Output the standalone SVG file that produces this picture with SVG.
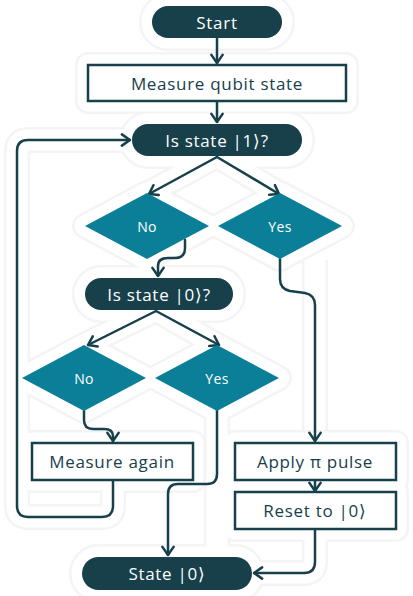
<svg xmlns="http://www.w3.org/2000/svg" xmlns:xlink="http://www.w3.org/1999/xlink" width="413" height="596" viewBox="0 0 413 596">
<style>
.pill{fill:#17404b}
.box{fill:#ffffff;stroke:#17404b;stroke-width:2.5}
.dia{fill:#0b7f98}
.t{font-family:"Open Sans","Liberation Sans",sans-serif;font-size:17px;letter-spacing:0.7px;text-anchor:middle;dominant-baseline:central}
.w{fill:#ffffff}
.d{fill:#17404b}
.s{font-size:14px;letter-spacing:0.3px}
.c{fill:none;stroke:#17404b;stroke-width:2.5;stroke-linecap:round;stroke-linejoin:round}
.halo1 *{fill:#f4f4f4;stroke:#f4f4f4;stroke-width:26;stroke-linejoin:round}
.halo2 *{fill:#ffffff;stroke:#ffffff;stroke-width:21;stroke-linejoin:round}
</style>
<defs>
<marker id="ah" viewBox="0 0 10 10" refX="9" refY="5" markerWidth="14" markerHeight="14" orient="auto" markerUnits="userSpaceOnUse">
<path d="M3.2,1 L9,5 L3.2,9" fill="none" stroke="#17404b" stroke-width="1.8" stroke-linecap="round" stroke-linejoin="round"/>
</marker>
<g id="shapes">
<rect x="152" y="6" width="130" height="32" rx="16"/>
<rect x="88" y="65" width="258" height="36"/>
<rect x="132" y="124" width="170" height="32" rx="16"/>
<polygon points="85,226 147,193 209,226 147,259"/>
<polygon points="218,226 280,193 342,226 280,259"/>
<rect x="85" y="278" width="148" height="32" rx="16"/>
<polygon points="22,378 84,345 146,378 84,411"/>
<polygon points="155,378 217,345 279,378 217,411"/>
<rect x="32" y="443" width="161" height="37"/>
<rect x="235" y="443" width="161" height="37"/>
<rect x="235" y="492" width="161" height="37"/>
<rect x="82" y="557" width="170" height="33" rx="16.5"/>
<path d="M113,480 V506 Q113,517 102,517 H28 Q17,517 17,506 V151 Q17,140 28,140 H131" fill="none"/>
<path d="M315,260 V430" fill="none"/>
<path d="M217,400 V555" fill="none"/>
<path d="M315,529 V562 Q315,573 304,573 H253" fill="none"/>
<path d="M217,156 L147,194 M217,156 L280,194 M156,310 L84,345 M156,310 L217,345" fill="none"/>
</g>
</defs>
<g class="halo1"><use xlink:href="#shapes"/></g>
<g class="halo2"><use xlink:href="#shapes"/></g>

<g id="connectors">
<path class="c" marker-end="url(#ah)" d="M217,38 V63"/>
<path class="c" marker-end="url(#ah)" d="M217,101 V122"/>
<path class="c" marker-end="url(#ah)" d="M113,481 V506 Q113,517 102,517 H28 Q17,517 17,506 V151 Q17,140 28,140 H130"/>
<path class="c" marker-end="url(#ah)" d="M217,157 L149,194"/>
<path class="c" marker-end="url(#ah)" d="M217,157 L279,194"/>
<path class="c" marker-end="url(#ah)" d="M185,240 V248 Q185,258 175,258 H168 Q158,258 158,266 V276"/>
<path class="c" marker-end="url(#ah)" d="M280,259 V279 Q280,289 290,291 L305,293 Q315,295 315,305 V441"/>
<path class="c" marker-end="url(#ah)" d="M156,311 L88,345"/>
<path class="c" marker-end="url(#ah)" d="M156,311 L219,345"/>
<path class="c" marker-end="url(#ah)" d="M84,411 V420 Q84,429 93,429 H104 Q113,429 113,436 V441"/>
<path class="c" marker-end="url(#ah)" d="M217,400 V474 Q217,484 207,484 H178 Q168,484 168,494 V555"/>
<path class="c" marker-end="url(#ah)" d="M315,481 V491"/>
<path class="c" marker-end="url(#ah)" d="M315,530 V562 Q315,573 304,573 H254"/>
</g>

<g id="start"><rect class="pill" x="152" y="6" width="130" height="32" rx="16"/><text class="t w" x="217" y="22">Start</text></g>
<g id="measure"><rect class="box" x="88" y="65" width="258" height="36"/><text class="t d" x="217" y="83">Measure qubit state</text></g>
<g id="is1"><rect class="pill" x="132" y="124" width="170" height="32" rx="16"/><text class="t w" x="217" y="140">Is state |1⟩?</text></g>
<g id="no1"><polygon class="dia" points="85,226 147,193 209,226 147,259"/><text class="t w s" x="147" y="226">No</text></g>
<g id="yes1"><polygon class="dia" points="218,226 280,193 342,226 280,259"/><text class="t w s" x="280" y="226">Yes</text></g>
<g id="is0"><rect class="pill" x="85" y="278" width="148" height="32" rx="16"/><text class="t w" x="159" y="294">Is state |0⟩?</text></g>
<g id="no2"><polygon class="dia" points="22,378 84,345 146,378 84,411"/><text class="t w s" x="84" y="378">No</text></g>
<g id="yes2"><polygon class="dia" points="155,378 217,345 279,378 217,411"/><text class="t w s" x="217" y="378">Yes</text></g>
<g id="again"><rect class="box" x="32" y="443" width="161" height="37"/><text class="t d" x="112" y="461">Measure again</text></g>
<g id="pulse"><rect class="box" x="235" y="443" width="161" height="37"/><text class="t d" x="315" y="461">Apply π pulse</text></g>
<g id="reset"><rect class="box" x="235" y="492" width="161" height="37"/><text class="t d" x="315" y="510">Reset to |0⟩</text></g>
<g id="state0"><rect class="pill" x="82" y="557" width="170" height="33" rx="16.5"/><text class="t w" x="167" y="573">State |0⟩</text></g>
</svg>
